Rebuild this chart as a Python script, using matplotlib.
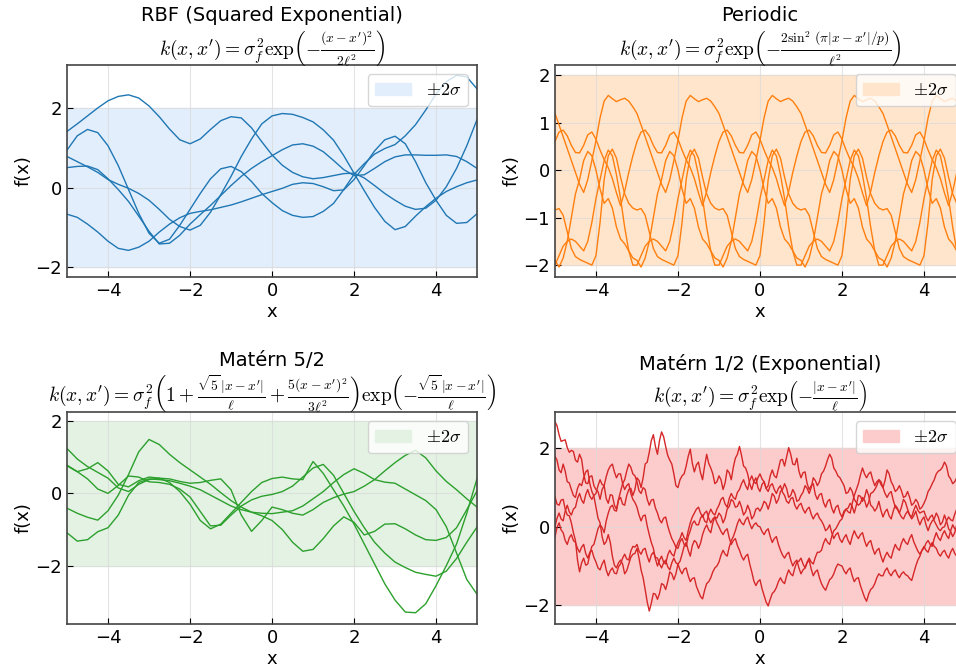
import numpy as np
import matplotlib.pyplot as plt

plt.rcParams['mathtext.fontset'] = 'cm'
plt.rcParams['font.family'] = 'DejaVu Sans'

# RBF samples (read at 0.25 steps over [-5, 5])
rbf_a = [1.41, 1.60, 1.80, 2.00, 2.18, 2.29, 2.33, 2.25, 2.05, 1.78, 1.47, 1.20, 1.10, 1.22, 1.46, 1.68, 1.78, 1.75, 1.50, 1.15, 0.82,
         0.56, 0.38, 0.27, 0.22, 0.25, 0.30, 0.35, 0.36, 0.24, 0.05, -0.15, -0.32, -0.47, -0.55, -0.52, -0.32, 0.02, 0.48, 1.05, 1.71]
rbf_b = [0.94, 1.30, 1.46, 1.38, 1.05, 0.55, -0.05, -0.65, -1.15, -1.40, -1.30, -0.95, -0.55, -0.15, 0.22, 0.47, 0.53, 0.40, 0.15, -0.15, -0.38,
         -0.58, -0.70, -0.75, -0.73, -0.60, -0.40, -0.05, 0.33, 0.60, 0.84, 0.98, 1.08, 1.30, 1.58, 1.95, 2.35, 2.66, 2.82, 2.78, 2.48]
rbf_c = [0.78, 0.65, 0.52, 0.38, 0.20, 0.08, -0.02, -0.15, -0.32, -0.55, -0.80, -0.98, -1.07, -0.95, -0.62, -0.18, 0.28, 0.78, 1.22, 1.60, 1.80,
         1.86, 1.84, 1.76, 1.65, 1.45, 1.19, 0.80, 0.36, -0.08, -0.50, -0.85, -1.06, -0.98, -0.72, -0.48, -0.27, -0.10, 0.02, 0.12, 0.19]
rbf_d = [0.50, 0.53, 0.54, 0.45, 0.22, -0.05, -0.35, -0.72, -1.10, -1.42, -1.40, -1.20, -0.92, -0.68, -0.45, -0.20, 0.05, 0.28, 0.48, 0.65, 0.80,
         0.95, 1.07, 1.10, 1.04, 0.90, 0.68, 0.45, 0.30, 0.32, 0.48, 0.65, 0.77, 0.82, 0.82, 0.81, 0.81, 0.82, 0.78, 0.65, 0.48]
rbf_e = [-0.67, -0.75, -0.92, -1.12, -1.35, -1.53, -1.58, -1.50, -1.35, -1.12, -0.92, -0.76, -0.65, -0.60, -0.56, -0.50, -0.44, -0.36, -0.27, -0.18, -0.10,
         -0.02, 0.08, 0.12, 0.10, 0.02, -0.08, -0.06, 0.20, 0.55, 0.92, 1.20, 1.29, 1.10, 0.65, 0.12, -0.32, -0.70, -0.90, -0.88, -0.66]

# Periodic samples (0.1 steps, period 2)
per_a = [1.19, 0.95, 0.70, 0.45, 0.20, -0.05, -0.30, -0.47, -0.20, 0.20, 0.62, 1.10, 1.45, 1.57, 1.50, 1.44, 1.48, 1.51, 1.45, 1.33,
         1.19, 0.95, 0.70, 0.45, 0.20, -0.05, -0.30, -0.47, -0.20, 0.20, 0.62, 1.10, 1.45, 1.57, 1.50, 1.44, 1.48, 1.51, 1.45, 1.33,
         1.19, 0.95, 0.70, 0.45, 0.20, -0.05, -0.30, -0.47, -0.20, 0.20, 0.62, 1.10, 1.45, 1.57, 1.50, 1.44, 1.48, 1.51, 1.45, 1.33,
         1.19, 0.95, 0.70, 0.45, 0.20, -0.05, -0.30, -0.47, -0.20, 0.20, 0.62, 1.10, 1.45, 1.57, 1.50, 1.44, 1.48, 1.51, 1.45, 1.33,
         1.19, 0.95, 0.70, 0.45, 0.20, -0.05, -0.30, -0.47, -0.20, 0.20, 0.62, 1.10, 1.45, 1.57, 1.50, 1.44, 1.48, 1.51, 1.45, 1.33, 1.19]
per_b = [0.60, 0.80, 0.84, 0.72, 0.52, 0.37, 0.36, 0.52, 0.74, 0.80, 0.65, 0.42, 0.22, 0.05, -0.18, -0.48, -0.75, -0.45, -0.05, 0.30,
         0.60, 0.80, 0.84, 0.72, 0.52, 0.37, 0.36, 0.52, 0.74, 0.80, 0.65, 0.42, 0.22, 0.05, -0.18, -0.48, -0.75, -0.45, -0.05, 0.30,
         0.60, 0.80, 0.84, 0.72, 0.52, 0.37, 0.36, 0.52, 0.74, 0.80, 0.65, 0.42, 0.22, 0.05, -0.18, -0.48, -0.75, -0.45, -0.05, 0.30,
         0.60, 0.80, 0.84, 0.72, 0.52, 0.37, 0.36, 0.52, 0.74, 0.80, 0.65, 0.42, 0.22, 0.05, -0.18, -0.48, -0.75, -0.45, -0.05, 0.30,
         0.60, 0.80, 0.84, 0.72, 0.52, 0.37, 0.36, 0.52, 0.74, 0.80, 0.65, 0.42, 0.22, 0.05, -0.18, -0.48, -0.75, -0.45, -0.05, 0.30, 0.60]
per_c = [-0.84, -0.81, -0.95, -1.30, -1.65, -1.82, -1.88, -1.92, -1.96, -2.00, -1.80, -1.10, -0.20, 0.30, 0.44, 0.25, -0.15, -0.50, -0.70, -0.80,
         -0.84, -0.81, -0.95, -1.30, -1.65, -1.82, -1.88, -1.92, -1.96, -2.00, -1.80, -1.10, -0.20, 0.30, 0.44, 0.25, -0.15, -0.50, -0.70, -0.80,
         -0.84, -0.81, -0.95, -1.30, -1.65, -1.82, -1.88, -1.92, -1.96, -2.00, -1.80, -1.10, -0.20, 0.30, 0.44, 0.25, -0.15, -0.50, -0.70, -0.80,
         -0.84, -0.81, -0.95, -1.30, -1.65, -1.82, -1.88, -1.92, -1.96, -2.00, -1.80, -1.10, -0.20, 0.30, 0.44, 0.25, -0.15, -0.50, -0.70, -0.80,
         -0.84, -0.81, -0.95, -1.30, -1.65, -1.82, -1.88, -1.92, -1.96, -2.00, -1.80, -1.10, -0.20, 0.30, 0.44, 0.25, -0.15, -0.50, -0.70, -0.80, -0.84]
per_d = [-1.90, -2.04, -1.85, -1.50, -1.00, -0.50, -0.20, 0.20, 0.39, 0.30, 0.00, -0.40, -0.70, -0.60, -0.80, -1.20, -1.45, -1.55, -1.70, -1.85,
         -1.90, -2.04, -1.85, -1.50, -1.00, -0.50, -0.20, 0.20, 0.39, 0.30, 0.00, -0.40, -0.70, -0.60, -0.80, -1.20, -1.45, -1.55, -1.70, -1.85,
         -1.90, -2.04, -1.85, -1.50, -1.00, -0.50, -0.20, 0.20, 0.39, 0.30, 0.00, -0.40, -0.70, -0.60, -0.80, -1.20, -1.45, -1.55, -1.70, -1.85,
         -1.90, -2.04, -1.85, -1.50, -1.00, -0.50, -0.20, 0.20, 0.39, 0.30, 0.00, -0.40, -0.70, -0.60, -0.80, -1.20, -1.45, -1.55, -1.70, -1.85,
         -1.90, -2.04, -1.85, -1.50, -1.00, -0.50, -0.20, 0.20, 0.39, 0.30, 0.00, -0.40, -0.70, -0.60, -0.80, -1.20, -1.45, -1.55, -1.70, -1.85, -1.90]
per_e = [-2.00, -1.80, -1.60, -1.50, -1.45, -1.50, -1.60, -1.70, -1.50, -1.10, -0.60, -0.20, 0.20, 0.42, 0.30, -0.10, -0.60, -1.20, -1.70, -2.00,
         -2.00, -1.80, -1.60, -1.50, -1.45, -1.50, -1.60, -1.70, -1.50, -1.10, -0.60, -0.20, 0.20, 0.42, 0.30, -0.10, -0.60, -1.20, -1.70, -2.00,
         -2.00, -1.80, -1.60, -1.50, -1.45, -1.50, -1.60, -1.70, -1.50, -1.10, -0.60, -0.20, 0.20, 0.42, 0.30, -0.10, -0.60, -1.20, -1.70, -2.00,
         -2.00, -1.80, -1.60, -1.50, -1.45, -1.50, -1.60, -1.70, -1.50, -1.10, -0.60, -0.20, 0.20, 0.42, 0.30, -0.10, -0.60, -1.20, -1.70, -2.00,
         -2.00, -1.80, -1.60, -1.50, -1.45, -1.50, -1.60, -1.70, -1.50, -1.10, -0.60, -0.20, 0.20, 0.42, 0.30, -0.10, -0.60, -1.20, -1.70, -2.00, -2.00]

# Matern 5/2 samples (0.25 steps)
m52_a = [1.24, 0.95, 0.74, 0.58, 0.42, 0.15, 0.05, 0.25, 0.38, 0.42, 0.40, 0.33, 0.28, 0.30, 0.36, 0.40, 0.10, -0.60, -1.05, -0.75, -0.38,
         -0.45, -0.55, -0.60, -0.45, -0.25, -0.12, -0.02, 0.05, 0.20, 0.38, 0.62, 0.85, 1.05, 1.19, 0.98, 0.62, 0.33, 0.10, -0.15, -0.38]
m52_b = [0.78, 0.60, 0.68, 0.85, 0.62, 0.25, 0.18, 0.35, 0.45, 0.42, 0.30, 0.05, -0.30, -0.75, -0.98, -0.85, -0.55, -0.25, 0.05, 0.30, 0.41,
         0.45, 0.40, 0.38, 0.88, 0.55, 0.10, -0.35, -0.85, -1.40, -1.95, -2.50, -2.95, -3.28, -3.30, -3.05, -2.55, -2.00, -1.40, -0.55, 0.41]
m52_c = [0.76, 0.60, 0.40, 0.12, 0.00, 0.22, 0.48, 0.45, 0.32, 0.30, 0.25, 0.12, -0.10, -0.50, -0.90, -0.88, -0.60, -0.35, -0.18, -0.08, -0.03,
         0.05, 0.20, 0.45, 0.70, 0.80, 0.50, 0.00, -0.50, -0.95, -1.35, -1.65, -1.90, -2.05, -2.18, -2.24, -2.29, -2.15, -1.80, -1.35, -0.93]
m52_d = [-0.41, -0.55, -0.66, -0.74, -0.48, -0.05, 0.52, 1.15, 1.49, 1.35, 1.08, 0.85, 0.65, 0.45, 0.25, 0.02, -0.20, -0.38, -0.52, -0.62, -0.75,
         -1.00, -1.35, -1.60, -1.55, -1.25, -0.90, -0.65, -0.80, -1.15, -1.05, -0.85, -0.84, -0.98, -1.15, -1.28, -1.30, -1.22, -0.95, -0.45, 0.07]
m52_e = [-1.09, -1.32, -1.28, -1.06, -0.95, -0.60, -0.05, 0.30, 0.40, 0.38, 0.35, 0.28, 0.20, 0.10, -0.05, -0.20, -0.35, -0.45, -0.52, -0.55, -0.56,
         -0.52, -0.48, -0.35, -0.15, 0.05, 0.30, 0.52, 0.68, 0.55, 0.38, 0.31, 0.28, 0.12, -0.04, -0.20, -0.45, -0.92, -1.65, -2.38, -2.79]

# Matern 1/2 samples (0.05 steps)
m12_a = [2.68, 2.58, 2.35, 2.18, 2.20, 2.22, 2.02, 1.90, 1.95, 1.92, 1.70, 1.65, 1.85, 1.72, 1.35, 1.12, 1.10, 1.28, 1.30, 1.05,
         0.95, 0.90, 0.70, 0.95, 1.05, 0.72, 0.60, 0.82, 0.80, 0.55, 0.45, 0.68, 0.75, 0.58, 0.55, 0.80, 0.95, 0.98, 0.80, 0.95,
         1.25, 1.18, 1.00, 1.25, 1.60, 1.65, 1.90, 2.20, 2.35, 2.05, 1.85, 2.20, 2.42, 2.30, 2.05, 1.82, 1.70, 1.60, 1.35, 1.05,
         1.00, 1.20, 1.30, 1.35, 1.55, 1.80, 1.98, 1.62, 1.40, 1.58, 1.65, 1.38, 1.20, 1.55, 1.85, 1.62, 1.50, 1.35, 1.10, 1.15,
         1.30, 1.20, 0.95, 1.12, 1.45, 1.38, 1.20, 1.52, 1.75, 1.85, 2.05, 1.82, 1.55, 1.50, 1.35, 1.10, 0.95, 1.15, 1.25, 1.00,
         0.90, 1.08, 1.15, 0.98, 1.05, 1.30, 1.45, 1.30, 1.25, 1.48, 1.70, 1.72, 1.55, 1.78, 2.02, 1.85, 1.60, 1.58, 1.75, 1.42,
         1.25, 1.38, 1.40, 1.10, 0.95, 1.05, 1.10, 0.82, 0.70, 0.82, 0.85, 0.62, 0.50, 0.65, 0.70, 0.48, 0.35, 0.50, 0.55, 0.35,
         0.25, 0.40, 0.45, 0.48, 0.60, 0.52, 0.35, 0.55, 0.80, 0.78, 0.65, 0.75, 0.95, 0.80, 0.55, 0.50, 0.40, 0.48, 0.65, 0.42,
         0.25, 0.38, 0.45, 0.28, 0.20, 0.40, 0.55, 0.48, 0.35, 0.50, 0.70, 0.62, 0.45, 0.30, 0.20, 0.28, 0.40, 0.20, 0.05, 0.18,
         0.25, 0.05, -0.10, 0.05, 0.15, 0.20, 0.35, 0.25, 0.05, 0.12, 0.30, 0.15, -0.05, -0.12, -0.25, -0.15, 0.05, -0.05, -0.30, -0.28, -0.40]
m12_b = [1.80, 1.70, 1.45, 1.38, 1.60, 1.42, 1.15, 1.12, 0.95, 0.80, 0.75, 0.98, 1.10, 1.05, 1.25, 1.40, 1.45, 1.10, 0.90, 0.78,
         0.50, 0.22, 0.10, -0.25, -0.45, -0.38, -0.20, -0.40, -0.75, -0.98, -1.05, -0.92, -0.85, -0.95, -1.20, -1.12, -0.95, -0.78, -0.70, -0.68,
         -0.55, -0.80, -1.10, -1.30, -1.60, -1.92, -2.15, -1.95, -1.70, -1.72, -1.85, -1.70, -1.45, -1.48, -1.60, -1.40, -1.15, -1.20, -1.35, -1.20,
         -0.95, -0.88, -0.70, -0.50, -0.40, -0.60, -0.75, -0.48, -0.35, -0.40, -0.55, -0.42, -0.20, -0.05, 0.05, -0.08, -0.15, 0.10, 0.25, 0.22,
         0.35, 0.28, 0.10, 0.22, 0.45, 0.52, 0.70, 0.65, 0.50, 0.52, 0.65, 0.50, 0.30, 0.38, 0.55, 0.42, 0.20, 0.28, 0.45, 0.48,
         0.40, 0.50, 0.65, 0.60, 0.45, 0.62, 0.85, 0.78, 0.60, 0.70, 0.90, 0.95, 1.10, 0.98, 0.75, 0.80, 0.95, 0.85, 0.65, 0.68,
         0.80, 0.88, 1.05, 0.98, 0.85, 1.00, 1.25, 1.18, 1.05, 1.15, 1.35, 1.42, 1.55, 1.72, 1.85, 1.75, 1.50, 1.42, 1.30, 1.25,
         1.15, 1.05, 0.85, 0.88, 1.00, 0.90, 0.70, 0.62, 0.55, 0.60, 0.75, 0.68, 0.50, 0.62, 0.85, 0.88, 0.95, 1.05, 1.20, 1.15,
         1.00, 1.18, 1.45, 1.35, 1.15, 1.05, 0.90, 0.95, 1.05, 0.92, 0.75, 0.78, 0.90, 0.75, 0.55, 0.60, 0.70, 0.62, 0.45, 0.50,
         0.60, 0.72, 0.90, 0.98, 1.10, 1.20, 1.35, 1.42, 1.45, 1.52, 1.65, 1.55, 1.30, 1.22, 1.10, 1.15, 1.25, 1.10, 0.85, 0.90, 1.00]
m12_c = [0.77, 0.58, 0.55, 0.68, 0.70, 0.45, 0.30, 0.28, 0.10, -0.15, -0.35, -0.85, -1.15, -0.92, -0.80, -0.98, -0.95, -0.70, -0.50, -0.45,
         -0.25, -0.05, 0.05, -0.02, -0.15, 0.15, 0.35, 0.50, 0.55, 0.42, 0.40, 0.70, 0.90, 1.10, 1.20, 1.42, 1.60, 1.52, 1.35, 1.30,
         1.15, 0.92, 0.85, 1.00, 0.95, 0.70, 0.55, 0.68, 0.70, 0.48, 0.35, 0.18, 0.10, 0.22, 0.25, 0.02, -0.15, -0.30, -0.40, -0.52,
         -0.55, -0.38, -0.30, -0.45, -0.50, -0.25, -0.10, 0.08, 0.15, 0.05, 0.05, 0.22, 0.30, 0.15, 0.10, 0.32, 0.45, 0.35, 0.30, 0.45,
         0.55, 0.70, 0.75, 0.58, 0.50, 0.72, 0.85, 0.75, 0.70, 0.88, 0.95, 1.10, 1.20, 1.05, 0.95, 1.18, 1.30, 1.15, 1.10, 1.25,
         1.35, 1.22, 1.15, 0.98, 0.90, 1.05, 1.10, 0.95, 0.85, 0.98, 1.05, 0.88, 0.80, 0.65, 0.60, 0.72, 0.75, 0.55, 0.45, 0.55,
         0.60, 0.45, 0.35, 0.45, 0.50, 0.32, 0.20, 0.30, 0.35, 0.22, 0.15, 0.05, -0.10, -0.05, 0.05, -0.15, -0.30, -0.20, -0.15, -0.32,
         -0.40, -0.28, -0.20, -0.35, -0.45, -0.25, -0.10, -0.22, -0.30, -0.20, -0.15, -0.35, -0.50, -0.40, -0.35, -0.55, -0.70, -0.60, -0.55, -0.75,
         -0.90, -0.75, -0.65, -0.75, -0.80, -0.60, -0.45, -0.55, -0.60, -0.42, -0.30, -0.40, -0.45, -0.30, -0.20, -0.38, -0.50, -0.62, -0.70, -0.60,
         -0.55, -0.42, -0.35, -0.45, -0.50, -0.30, -0.15, -0.28, -0.35, -0.20, -0.10, -0.22, -0.30, -0.10, 0.05, -0.05, -0.10, 0.08, 0.20, 0.22, 0.30]
m12_d = [0.00, 0.22, 0.35, 0.20, 0.15, 0.40, 0.55, 0.38, 0.30, 0.45, 0.50, 0.72, 0.85, 0.68, 0.60, 0.82, 0.95, 0.78, 0.70, 0.80,
         0.85, 1.05, 1.20, 1.08, 1.05, 1.28, 1.45, 1.55, 1.60, 1.40, 1.25, 1.35, 1.35, 1.10, 0.95, 1.05, 1.10, 0.85, 0.70, 0.62,
         0.50, 0.30, 0.15, 0.28, 0.30, 0.02, -0.20, -0.40, -0.55, -0.82, -1.00, -0.85, -0.75, -0.90, -0.95, -0.72, -0.60, -0.70, -0.75, -0.55,
         -0.40, -0.30, -0.15, -0.28, -0.35, -0.10, 0.10, 0.25, 0.35, 0.45, 0.50, 0.35, 0.25, 0.35, 0.40, 0.22, 0.10, 0.20, 0.25, 0.10,
         0.00, -0.12, -0.20, -0.10, -0.05, -0.28, -0.45, -0.35, -0.30, -0.48, -0.60, -0.75, -0.85, -0.75, -0.70, -0.95, -1.15, -1.38, -1.50, -1.40,
         -1.35, -1.58, -1.75, -1.92, -2.02, -1.85, -1.70, -1.65, -1.55, -1.40, -1.30, -1.40, -1.45, -1.25, -1.10, -1.20, -1.25, -1.05, -0.90, -0.88,
         -0.80, -0.95, -1.05, -0.92, -0.85, -1.08, -1.25, -1.15, -1.10, -1.30, -1.45, -1.55, -1.62, -1.48, -1.35, -1.30, -1.20, -1.05, -0.95, -0.98,
         -1.00, -1.12, -1.20, -1.10, -1.05, -1.25, -1.40, -1.32, -1.30, -1.50, -1.65, -1.80, -1.90, -1.72, -1.60, -1.55, -1.45, -1.30, -1.20, -1.25,
         -1.25, -1.12, -1.05, -1.18, -1.25, -1.15, -1.10, -1.22, -1.30, -1.20, -1.15, -1.22, -1.25, -1.32, -1.37, -1.18, -1.00, -0.85, -0.75, -0.60,
         -0.50, -0.60, -0.65, -0.50, -0.40, -0.50, -0.55, -0.68, -0.75, -0.65, -0.60, -0.72, -0.80, -0.65, -0.55, -0.68, -0.75, -0.65, -0.60, -0.68, -0.70]
m12_e = [-0.26, -0.02, 0.10, -0.08, -0.15, -0.35, -0.45, -0.28, -0.20, -0.35, -0.40, -0.55, -0.65, -0.52, -0.45, -0.68, -0.80, -0.65, -0.60, -0.78,
         -0.90, -1.05, -1.10, -0.95, -0.85, -1.10, -1.25, -1.12, -1.05, -1.18, -1.20, -1.02, -0.95, -0.80, -0.70, -0.82, -0.85, -0.62, -0.50, -0.52,
         -0.45, -0.62, -0.70, -0.58, -0.55, -0.75, -0.90, -0.72, -0.65, -0.78, -0.80, -0.95, -1.05, -0.92, -0.85, -1.02, -1.10, -0.92, -0.80, -0.92,
         -0.95, -1.10, -1.20, -1.08, -1.05, -1.25, -1.40, -1.32, -1.30, -1.52, -1.65, -1.78, -1.84, -1.62, -1.45, -1.40, -1.30, -1.15, -1.05, -1.00,
         -0.90, -0.72, -0.60, -0.70, -0.75, -0.52, -0.35, -0.25, -0.10, 0.08, 0.20, 0.10, 0.05, 0.18, 0.25, 0.08, -0.05, 0.05, 0.10, 0.02,
         0.00, -0.12, -0.20, -0.10, -0.05, -0.25, -0.40, -0.30, -0.25, -0.45, -0.60, -0.72, -0.80, -0.70, -0.65, -0.85, -1.00, -0.90, -0.85, -1.05,
         -1.20, -1.10, -1.05, -0.90, -0.80, -0.90, -0.95, -0.78, -0.65, -0.65, -0.60, -0.42, -0.30, -0.40, -0.45, -0.25, -0.10, -0.05, 0.05, 0.15,
         0.20, 0.35, 0.45, 0.38, 0.35, 0.60, 0.80, 0.95, 1.10, 1.32, 1.50, 1.35, 1.25, 1.35, 1.40, 1.20, 1.05, 1.15, 1.20, 1.08,
         1.00, 0.85, 0.75, 0.85, 0.90, 0.68, 0.50, 0.45, 0.35, 0.25, 0.20, 0.32, 0.40, 0.30, 0.25, 0.42, 0.55, 0.42, 0.35, 0.38,
         0.40, 0.25, 0.15, 0.25, 0.30, 0.15, 0.05, -0.05, -0.10, -0.02, 0.00, 0.15, 0.25, 0.18, 0.15, 0.32, 0.45, 0.40, 0.35, 0.50, 0.60]

panels = [
    dict(name="RBF (Squared Exponential)",
         formula=r"$k(x,x')=\sigma_f^2\mathrm{exp}\left(-\frac{(x-x')^2}{2\ell^2}\right)$",
         ys=[rbf_a, rbf_b, rbf_c, rbf_d, rbf_e],
         color="#1f77b4", fill="#e3eefc", ylim=(-2.25, 3.08),
         pos=[0.0701, 0.5853, 0.4289, 0.3174]),
    dict(name="Periodic",
         formula=r"$k(x,x')=\sigma_f^2\mathrm{exp}\left(-\frac{2\sin^2\,(\pi|x-x'|/p)}{\ell^2}\right)$",
         ys=[per_a, per_b, per_c, per_d, per_e],
         color="#ff7f0e", fill="#ffe5cc", ylim=(-2.25, 2.21),
         pos=[0.5805, 0.5853, 0.4289, 0.3174]),
    dict(name="Matérn 5/2",
         formula=r"$k(x,x')=\sigma_f^2\left(1+\frac{\sqrt{5}\,|x-x'|}{\ell}+\frac{5(x-x')^2}{3\ell^2}\right)\mathrm{exp}\left(-\frac{\sqrt{5}\,|x-x'|}{\ell}\right)$",
         ys=[m52_a, m52_b, m52_c, m52_d, m52_e],
         color="#2ca02c", fill="#e4f2e4", ylim=(-3.61, 2.25),
         pos=[0.0701, 0.0659, 0.4289, 0.3174]),
    dict(name="Matérn 1/2 (Exponential)",
         formula=r"$k(x,x')=\sigma_f^2\mathrm{exp}\left(-\frac{|x-x'|}{\ell}\right)$",
         ys=[m12_a, m12_b, m12_c, m12_d, m12_e],
         color="#d62728", fill="#fccccc", ylim=(-2.48, 2.93),
         pos=[0.5805, 0.0659, 0.4289, 0.3174]),
]

fig = plt.figure(figsize=(9.56, 6.68), dpi=100)

for p in panels:
    ax = fig.add_axes(p["pos"])
    ax.fill_between([-5, 5], [-2, -2], [2, 2], color=p["fill"], label=r"$\pm2\sigma$")
    for y in p["ys"]:
        ax.plot(np.linspace(-5, 5, len(y)), y, color=p["color"], lw=1.0)
    ax.set_xlim(-5, 5)
    ax.set_ylim(*p["ylim"])
    # explicit y turns off auto title placement; baseline of formula sits ~10px above the axes
    ax.set_title(p["name"] + "\n" + p["formula"], fontsize=14, y=1.0, pad=7, linespacing=1.1)
    ax.set_xlabel("x", fontsize=13, labelpad=2)
    ax.set_ylabel("f(x)", fontsize=13, labelpad=2)
    ax.tick_params(direction="in", labelsize=13, length=4)
    ax.grid(True, color="#d9d9d9", lw=0.8, alpha=0.7)
    for s in ax.spines.values():
        s.set_color("#444444")
        s.set_linewidth(1.2)
    ax.legend(loc="upper right", fontsize=13)

fig.savefig("out.png", dpi=100)
